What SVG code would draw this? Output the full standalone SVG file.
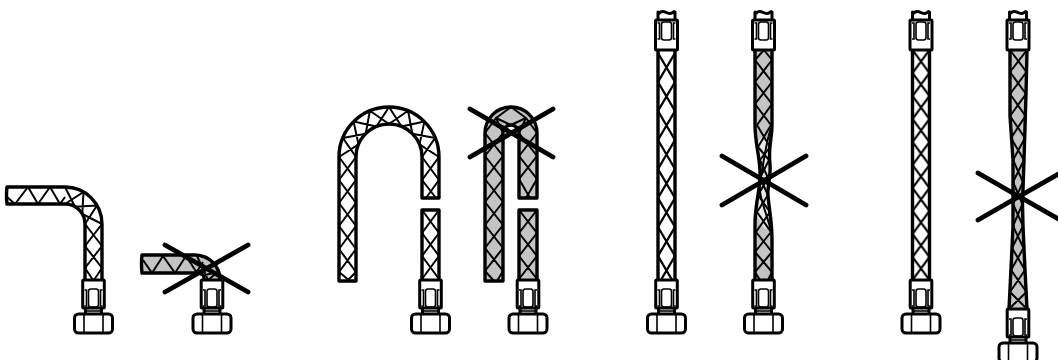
<svg xmlns="http://www.w3.org/2000/svg" width="1058" height="360" viewBox="0 0 1058 360">
<style>
.e{fill:none;stroke:#000;stroke-width:3.4;stroke-linejoin:round;stroke-linecap:round}
.b{fill:none;stroke:#000;stroke-width:2;stroke-linejoin:round}
.x{fill:none;stroke:#000;stroke-width:4.8;stroke-linecap:round}
.t{fill:none;stroke:#000;stroke-width:1.6}
.p{fill:#fff;stroke:#000;stroke-width:3;stroke-linejoin:round}
.g{fill:#c4c4c4}
.w{fill:#fff}
</style>
<defs>
<pattern id="b29" width="17" height="29" patternUnits="userSpaceOnUse" x="-8.5" y="53"><path d="M0 0L17 29M17 0L0 29" stroke="#000" stroke-width="2.2" fill="none"/></pattern>
<pattern id="b23" width="17" height="23" patternUnits="userSpaceOnUse" x="-8.5" y="50"><path d="M0 0L17 23M17 0L0 23" stroke="#000" stroke-width="2.2" fill="none"/></pattern>
<g id="inner"><path class="t" d="M-9 1H-7V17H-9M9 1H7V17H9"/><rect class="t" x="-5" y="0" width="10" height="18" rx="2.500" stroke-width="2"/></g>
<g id="bottom">
<rect class="p" x="-8" y="27" width="16" height="8"/>
<path class="t" d="M-8 31H8"/>
<rect class="p" x="-19" y="34" width="38" height="19" rx="4"/>
<path class="t" d="M-9.500 34V53M9.500 34V53" stroke-width="1.800"/>
<rect class="p" x="-10.800" y="0" width="21.600" height="28" rx="1"/>
<use href="#inner" y="9"/>
</g>
<g id="top">
<path class="p" d="M-8.500 21V12L-7 13C-4 9 1 14 4 13.500C6 13 7 12 7.500 11.500L8.500 12V21Z"/>
<rect class="p" x="-11" y="20" width="22" height="30" rx="1"/>
<use href="#inner" y="22"/>
</g>
</defs>
<rect width="1058" height="360" fill="#fff"/>

<g id="hose-a">
<path class="b" d="M7 197L15 204L28 187L38 204L50 187L60 204L65 197M65 187L75 206.700L97 205.500L85 224M65 204L83.500 192L82.300 214L102 224M85 224L102 246L85 268L93 280M102 224L85 246L102 268L94 280"/>
<path class="e" d="M7 187H65A37 37 0 0 1 102 224V280M85 280V224A20 20 0 0 0 65 204H7Q6 195 7 187"/>
<use href="#bottom" x="93.500" y="280"/>
</g>

<g id="hose-b">
<path class="g" d="M142 255H195A25 25 0 0 1 220 280H204A8 8 0 0 0 196 273H142Z"/>
<path class="b" d="M143 260L152 273L163 256L175 273L186 256L197 273M197 256L208 280M203 262L196 273M205 275L218 272L208 280"/>
<path class="e" d="M142 255H195A25 25 0 0 1 220 280M204 280Q205 273 196 273H142Q141 264 142 255"/>
<use href="#bottom" x="212" y="280"/>
<path class="x" d="M165 245L248 292M165 292L248 245"/>
</g>

<g id="hose-c">
<path class="b" d="M339 157L358.500 144.400L353.600 121.600L376.400 126.500L389 107L401.600 126.500L424.400 121.600L419.500 144.400L439 157M356 157L342.800 137.900L365.700 133.700L369.900 110.800L389 124L408.100 110.800L412.300 133.700L435.200 137.900L422 157"/>
<path class="b" d="M339 157L356 180L339 203L356 226L339 249L356 272L347 281M356 157L339 180L356 203L339 226L356 249L339 272L350 281M422 157L439 180L426 198M439 157L422 180L436 198"/>
<path class="b" d="M422 210L439 233L422 256L439 279M439 210L422 233L439 256L422 279"/>
<path class="e" d="M339 281V157A50 50 0 0 1 439 157V198H422V157A33 33 0 0 0 356 157V281Z"/>
<path class="e" d="M422 280V210H439V280"/>
<use href="#bottom" x="430.500" y="280"/>
</g>

<g id="hose-d">
<path class="g" d="M485 281V133A26 26 0 0 1 537 133V198H519V133A8 8 0 0 0 503 133V281Z"/>
<path class="g" d="M519 210H537V280H519Z"/>
<path class="b" d="M485 133L496 118L511 107L526 118L537 133M503 133L496 118L511 125L526 118L519 133M485 133L503 156L485 179L503 202L485 225L503 248L485 271L494 281M503 133L485 156L503 179L485 202L503 225L485 248L503 271L497 281M519 133L537 156L519 179L530 198M537 133L519 156L537 179L526 198M519 210L537 233L519 256L537 279M537 210L519 233L537 256L519 279"/>
<path class="e" d="M485 281V133A26 26 0 0 1 537 133V198H519V133A8 8 0 0 0 503 133V281Z"/>
<path class="e" d="M519 280V210H537V280"/>
<use href="#bottom" x="528" y="280"/>
<path class="x" d="M470 109L553 157M470 157L553 109"/>
</g>

<g id="hose-e" transform="translate(666.500 0)">
<rect x="-8.500" y="50" width="17" height="230" fill="#fff"/>
<rect x="-8.500" y="53" width="17" height="227" fill="url(#b29)"/>
<path class="e" d="M-8.500 50V280M8.500 50V280"/>
<use href="#top"/>
<use href="#bottom" y="280"/>
</g>

<g id="hose-f">
<path class="g" d="M755 50V125C755 145 761 160 760 178C759 195 755 205 755 225V280H772V240C772 220 769 210 768 195C767 190 771 175 770 165C768 145 772 140 772 125V50Z"/>
<path fill="#e8e8e8" d="M757 145C761 160 760 195 756 210C760 225 768 235 771 225C769 205 767 190 770 170C769 155 766 150 770 145C765 135 760 135 757 145Z"/>
<path class="b" d="M764 50L772 60L755 82L772 104L757 125L770 147L760 160L768 178L758 195L770 212L756 232L772 252L755 272L760 280M764 50L755 60L772 82L755 104L771 125L758 147L769 160L760 178L768 195L757 212L771 232L755 252L772 272L768 280"/>
<path class="b" d="M771 128C765 145 763 170 760 180C757 195 768 215 771 232"/>
<path class="e" d="M755 50V125C755 145 761 160 760 178C759 195 755 205 755 225V280M772 50V125C772 140 768 145 770 165C771 175 767 190 768 195C769 210 772 220 772 240V280"/>
<use href="#top" x="763.500"/>
<use href="#bottom" x="763.500" y="280"/>
<path class="x" d="M722 205L806 156M722 156L806 205"/>
</g>

<g id="hose-g" transform="translate(921 0)">
<rect x="-8.500" y="50" width="17" height="230" fill="#fff"/>
<rect x="-8.500" y="50" width="17" height="230" fill="url(#b23)"/>
<path class="e" d="M-8.500 50V280M8.500 50V280"/>
<use href="#top"/>
<use href="#bottom" y="280"/>
</g>

<g id="hose-h">
<path class="g" d="M1010 50L1010 116L1013 160L1013 226L1012 248L1009 309H1027L1025 270L1023 226L1022.500 204L1024 160L1026 94L1027 50Z"/>
<path class="b" d="M1010 50L1026.500 72L1010 94L1025.500 116L1011 138L1024 160L1013 182L1022.500 204L1013 226L1023.500 248L1011 270L1026.500 292L1009 309M1027 50L1010 72L1026 94L1010 116L1025 138L1013 160L1023 182L1013 204L1023 226L1012 248L1025 270L1010 292L1027 309"/>
<path class="e" d="M1010 50L1010 116L1013 160L1013 226L1012 248L1009 309M1027 50L1026 94L1024 160L1022.500 204L1023 226L1025 270L1027 309"/>
<use href="#top" x="1018"/>
<use href="#bottom" x="1018" y="309"/>
<path class="x" d="M978 173L1060 220M978 220L1060 173"/>
</g>
</svg>
